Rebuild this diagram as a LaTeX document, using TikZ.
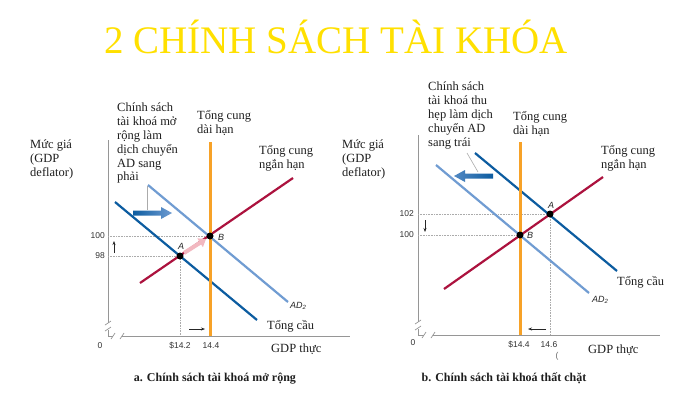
\documentclass[tikz,border=0pt]{standalone}
\usepackage{fontspec}
\setmainfont{Liberation Serif}
\setsansfont{Liberation Sans}
\usetikzlibrary{arrows.meta}
\definecolor{titley}{RGB}{255,224,0}
\definecolor{lras}{RGB}{247,162,40}
\definecolor{sras}{RGB}{172,18,62}
\definecolor{addark}{RGB}{12,92,160}
\definecolor{adlight}{RGB}{112,156,210}
\definecolor{pinkar}{RGB}{242,184,192}
\definecolor{axisg}{RGB}{150,150,150}
\definecolor{txt}{RGB}{30,30,30}
\begin{document}
\begin{tikzpicture}[x=1pt,y=-1pt,
  lbl/.style={font=\fontsize{12.5}{13.8}\selectfont, align=left, inner sep=0pt, anchor=north west, text=txt},
  single/.style={font=\fontsize{12.5}{13.8}\selectfont, inner sep=0pt, anchor=base west, text=txt},
  caption/.style={font=\bfseries\fontsize{12}{13}\selectfont, inner sep=0pt, anchor=base, text=txt},
  num/.style={font=\sffamily\fontsize{8.5}{9.5}\selectfont, inner sep=0pt, text=black!80},
  ptlbl/.style={font=\sffamily\itshape\fontsize{9}{10}\selectfont, inner sep=0pt, text=black!85},
  dot/.style={circle, fill=black, inner sep=0pt, minimum size=7pt},
  guide/.style={axisg!80, densely dotted, line width=0.6pt},
  axisline/.style={axisg, line width=1pt},
  brk/.style={axisg, line width=0.7pt},
  curve/.style={line width=2.2pt},
  smallarrow/.style={-{Stealth[length=4pt,width=3pt]}, line width=0.6pt, black!85},
  leader/.style={axisg!80, line width=0.6pt}]
\fill[white] (0,0) rectangle (700,400);
\useasboundingbox (0,0) rectangle (700,400);

% Title
\node[font=\fontsize{39}{42}\selectfont, text=titley, inner sep=0pt, anchor=base] (title) at (336,53) {2 CHÍNH SÁCH TÀI KHÓA};

% ================= Left panel =================
\coordinate (aYt) at (108,140);
\coordinate (aO) at (108,336);
\coordinate (aXe) at (350,336);
\draw[axisline] (aYt) -- (108,323);
\draw[axisline] (108,330) -- (aO) -- (113,336);
\draw[axisline] (122,336) -- (aXe);
\draw[brk] (105,325) -- (111,321);
\draw[brk] (105,331) -- (111,327);
\draw[brk] (111,339) -- (115,333);
\draw[brk] (120,339) -- (124,333);

\coordinate (aA) at (180,256);
\coordinate (aB) at (210,236);
\draw[guide] (108,236) -- (aB);
\draw[guide] (108,256) -- (aA);
\draw[guide] (aA) -- (180,336);

\coordinate (aL1) at (210,142); \coordinate (aL2) at (210,336);
\coordinate (aS1) at (140,283); \coordinate (aS2) at (293,178);
\coordinate (aD1) at (115,202); \coordinate (aD2) at (257,320);
\coordinate (aE1) at (148,185); \coordinate (aE2) at (288,302);
\draw[curve, adlight] (aE1) -- (aE2);
\draw[curve, addark] (aD1) -- (aD2);
\draw[curve, sras] (aS1) -- (aS2);
\draw[line width=3pt, lras] (aL1) -- (aL2);

% leader and shift arrow
\draw[leader] (147,186) -- (147,210);
\shade[left color=addark, right color=adlight] (133,210.5) -- (161,210.5) -- (161,207) -- (172,213) -- (161,219) -- (161,215.5) -- (133,215.5) -- cycle;
\draw[pinkar, line width=4pt, -{Triangle[length=7pt,width=10pt]}] (184,253) -- (206,239);

\node[dot] (A1) at (aA) {};
\node[dot] (B1) at (aB) {};
\node[ptlbl] (A1l) at (181,246) {A};
\node[ptlbl] (B1l) at (221,237) {B};

\draw[smallarrow] (114,253) -- (114,241);
\draw[smallarrow] (189,329) -- (205,329);

\node[num, anchor=east] (a100) at (105,236) {100};
\node[num, anchor=east] (a98) at (105,256) {98};
\node[num] (a0) at (100,346) {0};
\node[num] (a142) at (180,346) {\$14.2};
\node[num] (a144) at (211,346) {14.4};

\node[lbl] (aTxt) at (117,103) {Chính sách\\tài khoá mở\\rộng làm\\dịch chuyển\\AD sang\\phải};
\node[lbl] (aLR) at (197,110) {Tổng cung\\dài hạn};
\node[lbl] (aSR) at (259,145) {Tổng cung\\ngắn hạn};
\node[lbl] (aY) at (30,140) {Mức giá\\(GDP\\deflator)};
\node[single] (aAD) at (267,329) {Tổng cầu};
\node[ptlbl, anchor=base west] (aAD2) at (290,308) {AD\textsubscript{2}};
\node[single] (aX) at (271,352) {GDP thực};
\node[caption] (aCap) at (215,381) {a. Chính sách tài khoá mở rộng};

% ================= Right panel =================
\coordinate (bYt) at (418,135);
\coordinate (bO) at (418,335);
\coordinate (bXe) at (660,335);
\draw[axisline] (bYt) -- (418,322);
\draw[axisline] (418,329) -- (bO) -- (424,335);
\draw[axisline] (433,335) -- (bXe);
\draw[brk] (415,324) -- (421,320);
\draw[brk] (415,330) -- (421,326);
\draw[brk] (422,338) -- (426,332);
\draw[brk] (431,338) -- (435,332);

\coordinate (bA) at (550,214);
\coordinate (bB) at (520,235);
\draw[guide] (418,214) -- (bA);
\draw[guide] (418,235) -- (bB);
\draw[guide] (bA) -- (550,335);

\coordinate (bL1) at (520,142); \coordinate (bL2) at (520,335);
\coordinate (bS1) at (444,289); \coordinate (bS2) at (603,177);
\coordinate (bD1) at (475,153); \coordinate (bD2) at (617,271);
\coordinate (bE1) at (436,165); \coordinate (bE2) at (589,293);
\draw[curve, adlight] (bE1) -- (bE2);
\draw[curve, addark] (bD1) -- (bD2);
\draw[curve, sras] (bS1) -- (bS2);
\draw[line width=3pt, lras] (bL1) -- (bL2);

\draw[leader] (467,153) -- (478,172);
\shade[left color=adlight!70!addark, right color=addark] (454,176) -- (465,170) -- (465,173.5) -- (493,173.5) -- (493,178.5) -- (465,178.5) -- (465,182) -- cycle;

\node[dot] (A2) at (bA) {};
\node[dot] (B2) at (bB) {};
\node[ptlbl] (A2l) at (551,205) {A};
\node[ptlbl] (B2l) at (530,235) {B};

\draw[smallarrow] (425,220) -- (425,232);
\draw[smallarrow] (546,329) -- (528,329);

\node[num, anchor=east] (b102) at (414,214) {102};
\node[num, anchor=east] (b100) at (414,235) {100};
\node[num] (b0) at (413,343) {0};
\node[num] (b144) at (519,345) {\$14.4};
\node[num] (b146) at (549,345) {14.6};
\node[num, text=black!60] (bpar) at (557,356) {(};

\node[lbl] (bTxt) at (428,82) {Chính sách\\tài khoá thu\\hẹp làm dịch\\chuyển AD\\sang trái};
\node[lbl] (bLR) at (513,111) {Tổng cung\\dài hạn};
\node[lbl] (bSR) at (601,145) {Tổng cung\\ngắn hạn};
\node[lbl] (bY) at (342,140) {Mức giá\\(GDP\\deflator)};
\node[single] (bAD) at (617,285) {Tổng cầu};
\node[ptlbl, anchor=base west] (bAD2) at (592,302) {AD\textsubscript{2}};
\node[single] (bX) at (588,353) {GDP thực};
\node[caption] (bCap) at (504,381) {b. Chính sách tài khoá thất chặt};
\end{tikzpicture}
\end{document}
